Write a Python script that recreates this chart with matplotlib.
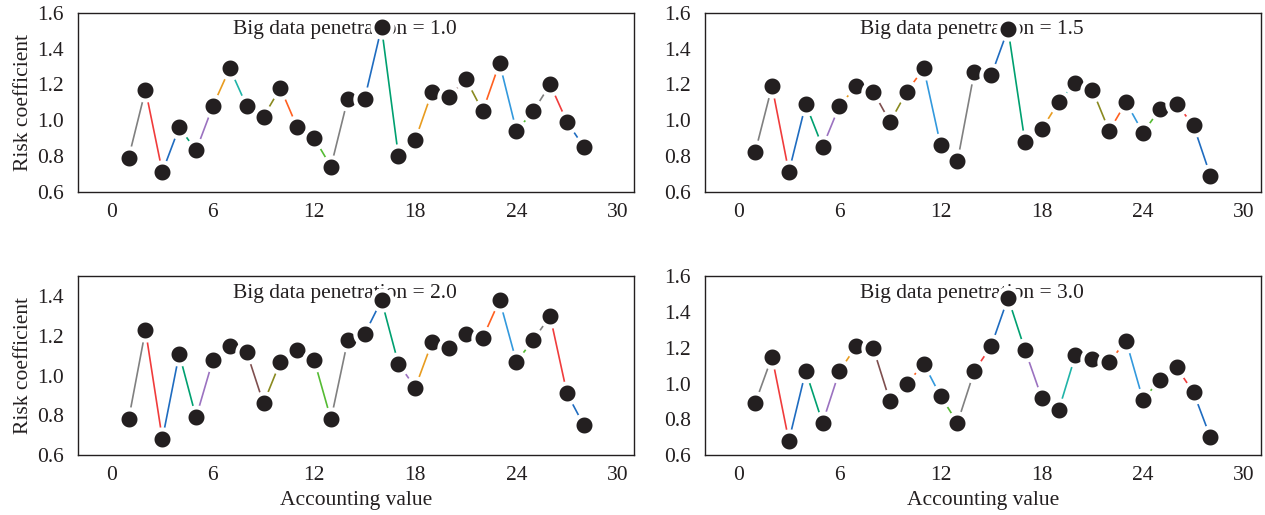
import matplotlib
matplotlib.use("Agg")
import matplotlib.pyplot as plt

plt.rcParams['font.family'] = ['Liberation Serif', 'DejaVu Serif']

accounting = list(range(1, 29))

risk_10 = [0.79, 1.17, 0.71, 0.96, 0.83, 1.08, 1.29, 1.08, 1.02, 1.18, 0.96, 0.90, 0.74, 1.12,
           1.12, 1.52, 0.80, 0.89, 1.16, 1.13, 1.23, 1.05, 1.32, 0.94, 1.05, 1.20, 0.99, 0.85]
risk_15 = [0.82, 1.19, 0.71, 1.09, 0.85, 1.08, 1.19, 1.16, 0.99, 1.16, 1.29, 0.86, 0.77, 1.27,
           1.25, 1.51, 0.88, 0.95, 1.10, 1.21, 1.17, 0.94, 1.10, 0.93, 1.06, 1.09, 0.97, 0.69]
risk_20 = [0.78, 1.23, 0.68, 1.11, 0.79, 1.08, 1.15, 1.12, 0.86, 1.07, 1.13, 1.08, 0.78, 1.18,
           1.21, 1.38, 1.06, 0.94, 1.17, 1.14, 1.21, 1.19, 1.38, 1.07, 1.18, 1.30, 0.91, 0.75]
risk_30 = [0.89, 1.15, 0.68, 1.07, 0.78, 1.07, 1.21, 1.20, 0.90, 1.00, 1.11, 0.93, 0.78, 1.07,
           1.21, 1.48, 1.19, 0.92, 0.85, 1.16, 1.14, 1.12, 1.24, 0.91, 1.02, 1.09, 0.95, 0.70]

penetration = ["1.0", "1.5", "2.0", "3.0"]
series = [risk_10, risk_15, risk_20, risk_30]
ylims = [(0.6, 1.6), (0.6, 1.6), (0.6, 1.5), (0.6, 1.6)]

# colour cycle used for the segments between neighbouring points
seg_colors = ["#808080", "#f03c3c", "#1f6cc0", "#00a070", "#9b72c0", "#e89c20",
              "#20b4a8", "#7f4f4f", "#8a8a20", "#ff6020", "#3399dd", "#55bb33"]

fs = 15.5
dark = "#231f20"

fig, axes = plt.subplots(2, 2, figsize=(12.65, 5.15), dpi=100)
fig.subplots_adjust(left=0.0617, right=0.9968, top=0.9748, bottom=0.1165,
                    wspace=0.126, hspace=0.475)

for k, ax in enumerate(axes.flat):
    y = series[k]
    for i in range(len(accounting) - 1):
        ax.plot(accounting[i:i + 2], y[i:i + 2], color=seg_colors[i % len(seg_colors)],
                lw=1.2, zorder=2)
    ax.plot(accounting, y, ls="none", marker="o", ms=14.5, mfc=dark,
            mec="white", mew=3, zorder=3)
    ax.set_xlim(-2, 31)
    ax.set_ylim(*ylims[k])
    ax.set_xticks([0, 6, 12, 18, 24, 30])
    if k == 2:
        ax.set_yticks([0.6, 0.8, 1.0, 1.2, 1.4])
    else:
        ax.set_yticks([0.6, 0.8, 1.0, 1.2, 1.4, 1.6])
    ax.yaxis.set_major_formatter(matplotlib.ticker.FormatStrFormatter('%.1f'))
    ax.tick_params(length=0, labelsize=fs, colors=dark)
    ax.tick_params(axis="y", pad=10)
    ax.tick_params(axis="x", pad=8)
    for s in ax.spines.values():
        s.set_color(dark)
        s.set_linewidth(1.0)
    ax.text(0.48, 0.905, "Big data penetration = " + penetration[k],
            transform=ax.transAxes, ha="center", va="center", fontsize=fs,
            color=dark, zorder=1)
    if k % 2 == 0:
        ax.set_ylabel("Risk coefficient", fontsize=fs, color=dark, labelpad=3)
    if k >= 2:
        ax.set_xlabel("Accounting value", fontsize=fs, color=dark, labelpad=4)

fig.savefig("out.png", dpi=100)
